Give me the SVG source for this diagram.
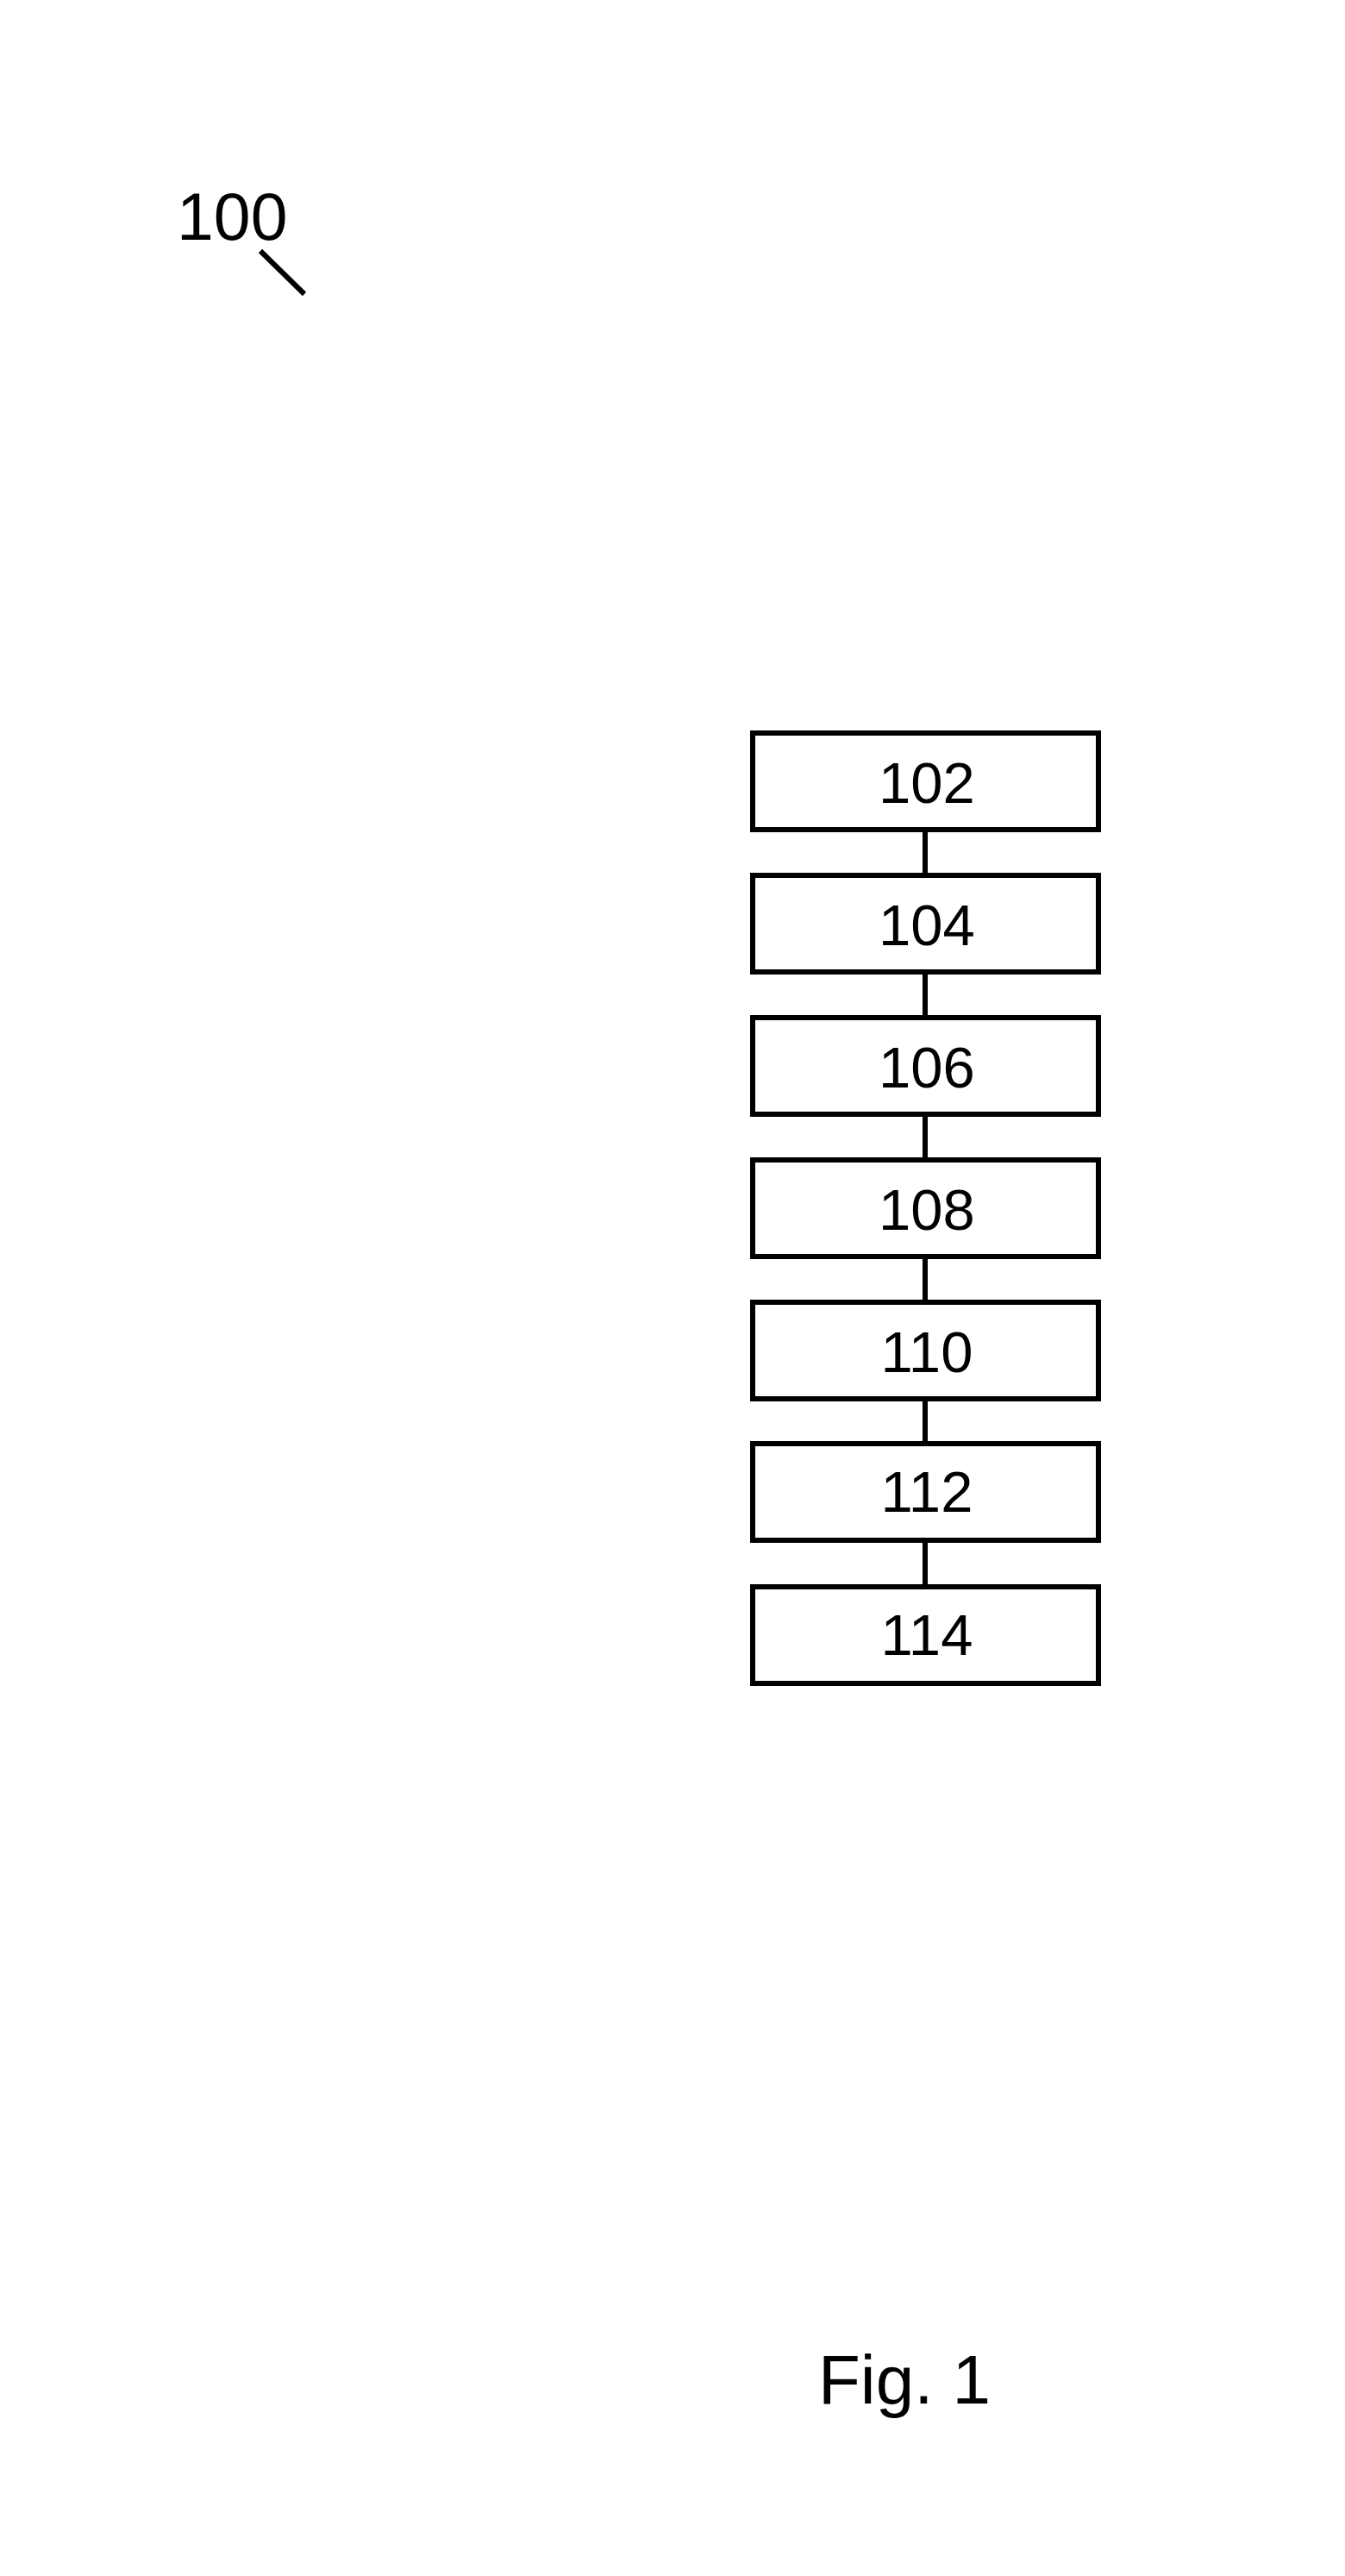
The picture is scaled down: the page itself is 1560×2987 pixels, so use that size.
<svg xmlns="http://www.w3.org/2000/svg" width="1560" height="2987" viewBox="0 0 1560 2987">
<style>
.box{fill:#fff;stroke:#000;stroke-width:6}
.lbl{font-family:"Liberation Sans",Arial,sans-serif;font-size:67px;fill:#000;text-anchor:middle}
.con{stroke:#000;stroke-width:6;fill:none}
</style>
<rect width="1560" height="2987" fill="#fff"/>
<g id="ref100">
<text x="205" y="278" font-family="Liberation Sans, Arial, sans-serif" font-size="77" fill="#000">100</text>
<line x1="302" y1="291" x2="353" y2="341" stroke="#000" stroke-width="6"/>
</g>
<g id="connectors">
<line class="con" x1="1073" y1="962" x2="1073" y2="1015"/>
<line class="con" x1="1073" y1="1127" x2="1073" y2="1180"/>
<line class="con" x1="1073" y1="1292" x2="1073" y2="1345"/>
<line class="con" x1="1073" y1="1457" x2="1073" y2="1510"/>
<line class="con" x1="1073" y1="1622" x2="1073" y2="1674"/>
<line class="con" x1="1073" y1="1786" x2="1073" y2="1840"/>
</g>
<g id="n102"><rect class="box" x="873" y="850" width="401" height="112"/><text class="lbl" x="1075" y="931">102</text></g>
<g id="n104"><rect class="box" x="873" y="1015" width="401" height="112"/><text class="lbl" x="1075" y="1096">104</text></g>
<g id="n106"><rect class="box" x="873" y="1180" width="401" height="112"/><text class="lbl" x="1075" y="1261">106</text></g>
<g id="n108"><rect class="box" x="873" y="1345" width="401" height="112"/><text class="lbl" x="1075" y="1426">108</text></g>
<g id="n110"><rect class="box" x="873" y="1510" width="401" height="112"/><text class="lbl" x="1075" y="1591">110</text></g>
<g id="n112"><rect class="box" x="873" y="1674" width="401" height="112"/><text class="lbl" x="1075" y="1753">112</text></g>
<g id="n114"><rect class="box" x="873" y="1840" width="401" height="112"/><text class="lbl" x="1075" y="1919">114</text></g>
<text x="949" y="2787" font-family="Liberation Sans, Arial, sans-serif" font-size="80" fill="#000">Fig. 1</text>
</svg>
